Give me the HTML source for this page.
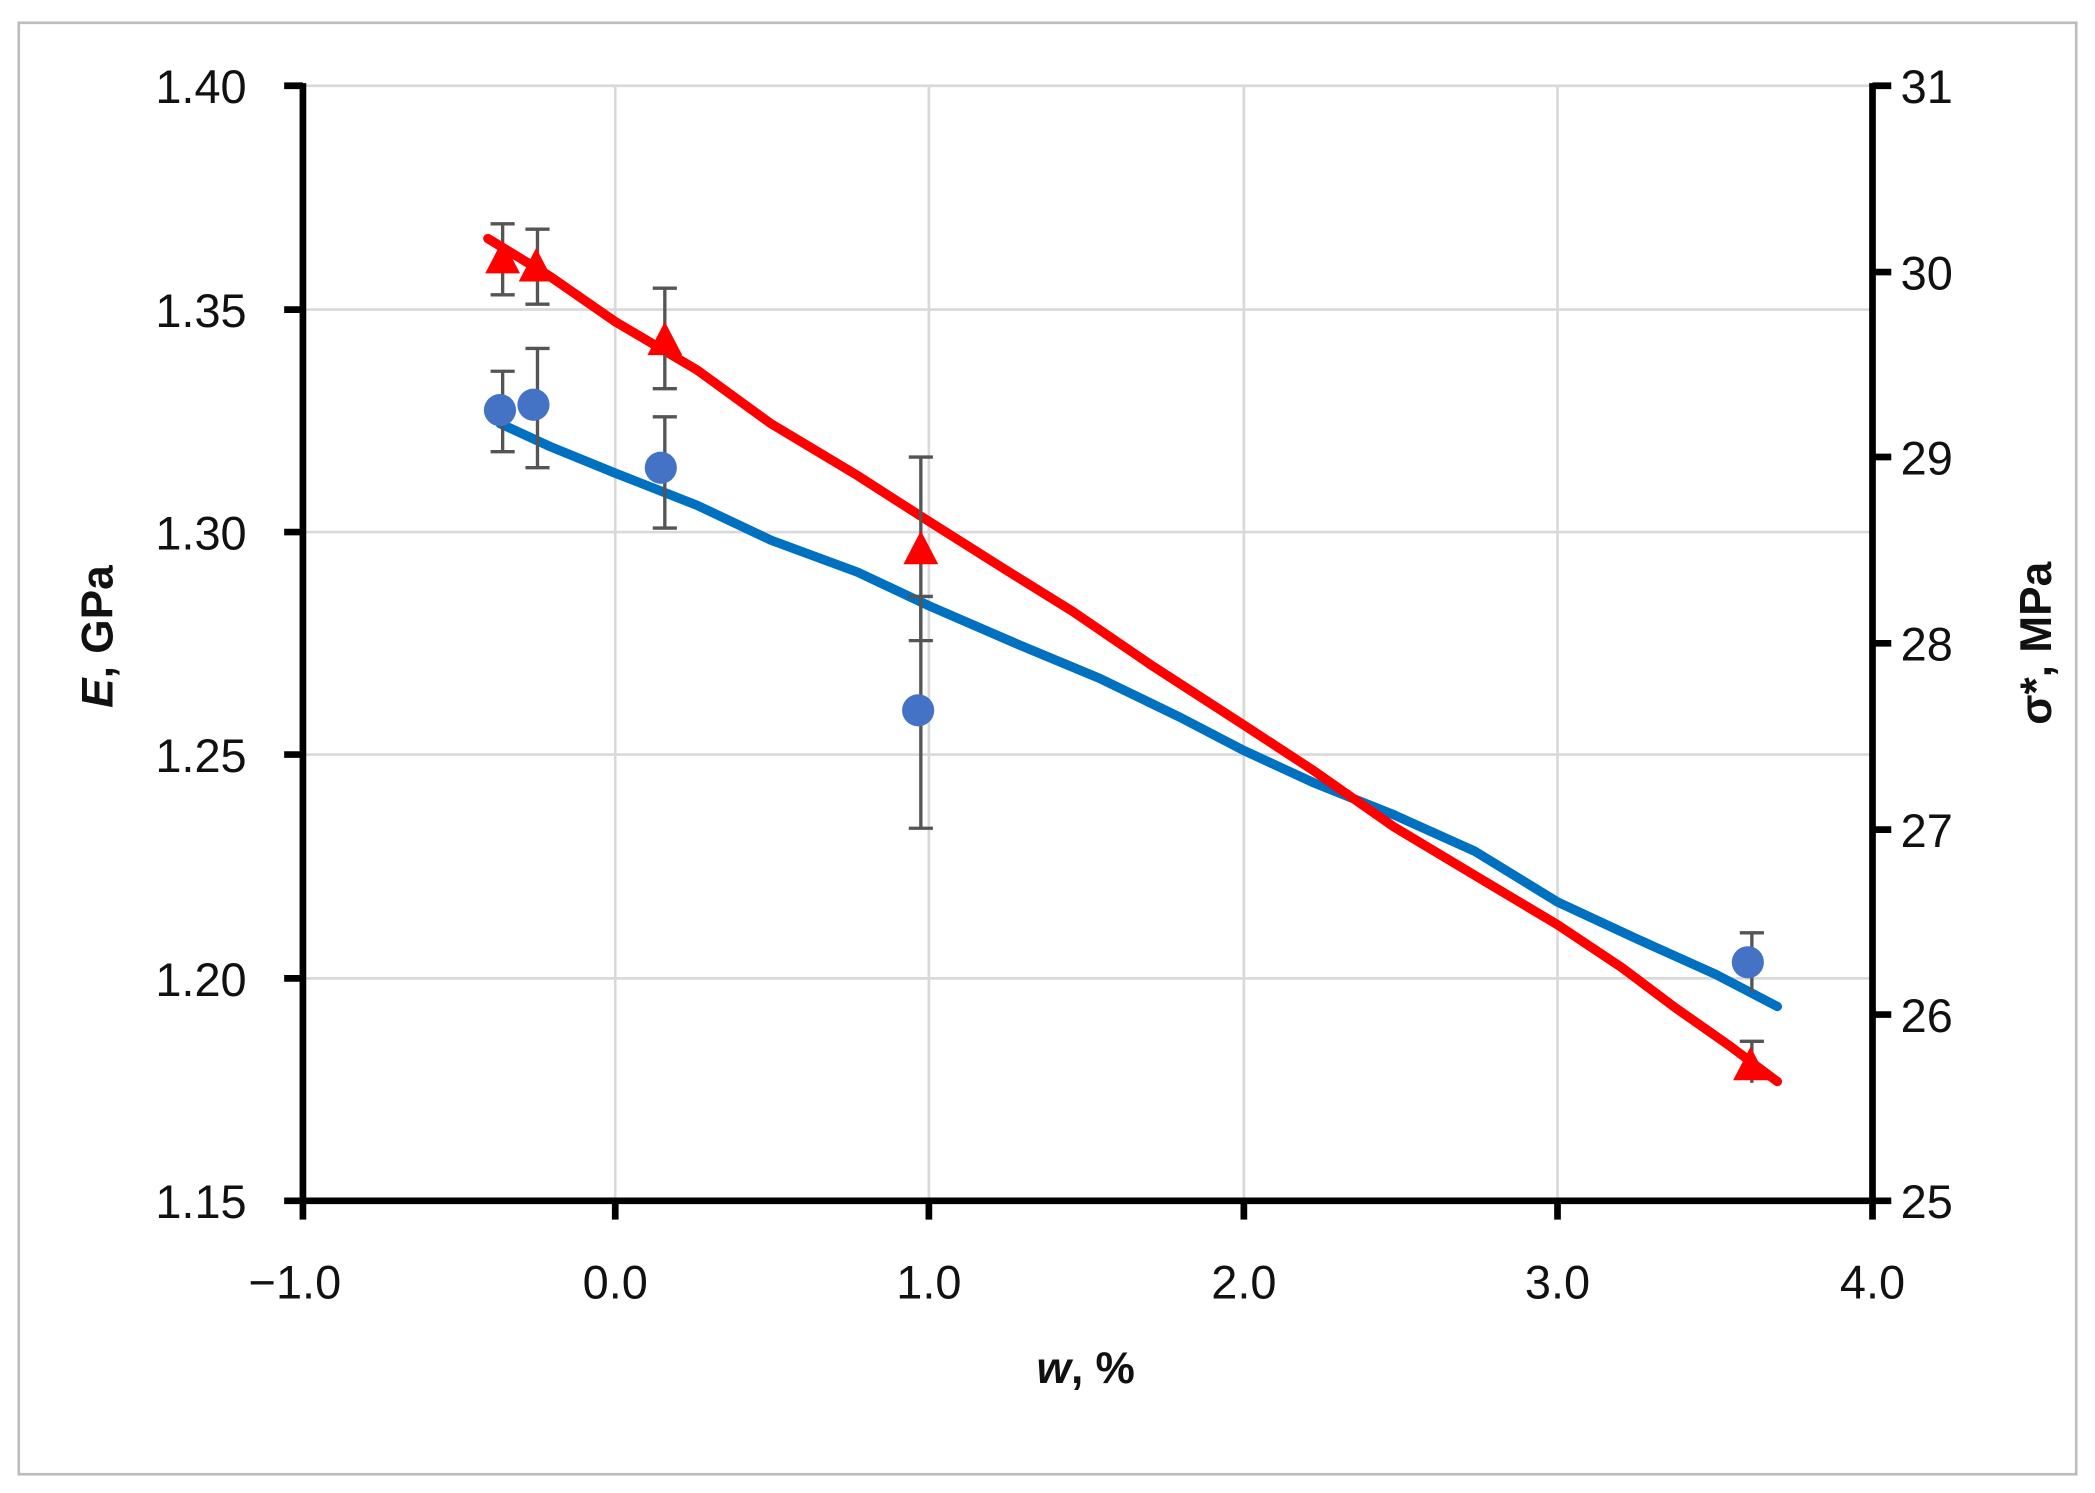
<!DOCTYPE html>
<html><head><meta charset="utf-8"><style>
html,body{margin:0;padding:0;background:#fff;}
svg{display:block;}
text{font-family:"Liberation Sans",sans-serif;fill:#111;}
</style></head><body>
<svg width="2095" height="1493" viewBox="0 0 1563 1114" preserveAspectRatio="none">
<rect x="0" y="0" width="1563" height="1114" fill="#fff"/>
<rect x="14" y="17" width="1535" height="1083" fill="#fff" stroke="#bdbdbd" stroke-width="2"/>
<g stroke="#d9d9d9" stroke-width="2">
<line x1="226" y1="64" x2="1397" y2="64"/>
<line x1="226" y1="231" x2="1397" y2="231"/>
<line x1="226" y1="397" x2="1397" y2="397"/>
<line x1="226" y1="563" x2="1397" y2="563"/>
<line x1="226" y1="730" x2="1397" y2="730"/>
<line x1="459" y1="64" x2="459" y2="896"/>
<line x1="693" y1="64" x2="693" y2="896"/>
<line x1="928" y1="64" x2="928" y2="896"/>
<line x1="1162" y1="64" x2="1162" y2="896"/>
</g>
<g stroke="#000" stroke-width="5" fill="none">
<line x1="226" y1="62" x2="226" y2="898"/>
<line x1="1397" y1="62" x2="1397" y2="898"/>
<line x1="224" y1="896" x2="1399" y2="896"/>
</g>
<g stroke="#000" stroke-width="5">
<line x1="212" y1="64" x2="226" y2="64"/><line x1="212" y1="231" x2="226" y2="231"/><line x1="212" y1="397" x2="226" y2="397"/><line x1="212" y1="563" x2="226" y2="563"/><line x1="212" y1="730" x2="226" y2="730"/><line x1="212" y1="896" x2="226" y2="896"/>
<line x1="1397" y1="64" x2="1411" y2="64"/><line x1="1397" y1="203" x2="1411" y2="203"/><line x1="1397" y1="341" x2="1411" y2="341"/><line x1="1397" y1="480" x2="1411" y2="480"/><line x1="1397" y1="619" x2="1411" y2="619"/><line x1="1397" y1="757" x2="1411" y2="757"/><line x1="1397" y1="896" x2="1411" y2="896"/>
<line x1="226" y1="896" x2="226" y2="910"/><line x1="459" y1="896" x2="459" y2="910"/><line x1="693" y1="896" x2="693" y2="910"/><line x1="928" y1="896" x2="928" y2="910"/><line x1="1162" y1="896" x2="1162" y2="910"/><line x1="1397" y1="896" x2="1397" y2="910"/>
</g>
<g font-size="35" text-anchor="end">
<text x="184" y="77">1.40</text><text x="184" y="244">1.35</text><text x="184" y="410">1.30</text><text x="184" y="576">1.25</text><text x="184" y="743">1.20</text><text x="184" y="909">1.15</text>
</g>
<g font-size="35" text-anchor="start">
<text x="1418" y="77">31</text><text x="1418" y="216">30</text><text x="1418" y="354">29</text><text x="1418" y="493">28</text><text x="1418" y="632">27</text><text x="1418" y="770">26</text><text x="1418" y="909">25</text>
</g>
<g font-size="35" text-anchor="middle">
<text x="220" y="969">−1.0</text><text x="459" y="969">0.0</text><text x="693" y="969">1.0</text><text x="928" y="969">2.0</text><text x="1162" y="969">3.0</text><text x="1397" y="969">4.0</text>
</g>
<text x="810" y="1032" font-size="33" font-weight="bold" text-anchor="middle"><tspan font-style="italic">w</tspan>, %</text>
<text transform="translate(84,475) rotate(-90)" font-size="33" font-weight="bold" text-anchor="middle"><tspan font-style="italic">E</tspan>, GPa</text>
<text transform="translate(1530,480) rotate(-90)" font-size="33" font-weight="bold" text-anchor="middle">σ*, MPa</text>
<polyline fill="none" stroke="#0070c0" stroke-width="7" stroke-linecap="round" points="373,316 410,333 459,353 520,377 575,403 640,427 693,452 760,481 820,506 880,535 928,560 980,584 1040,608 1100,635 1162,673 1220,700 1280,727 1326,751"/>
<polyline fill="none" stroke="#ff0000" stroke-width="7" stroke-linecap="round" points="364,178 410,206 459,240 520,276 575,316 640,355 693,389 750,425 800,456 860,497 928,541 980,575 1040,617 1100,653 1162,690 1210,722 1250,752 1290,780 1326,807"/>
<g stroke="#555" stroke-width="2.5">
<line x1="375" y1="167" x2="375" y2="220"/><line x1="366" y1="167" x2="384" y2="167"/><line x1="366" y1="220" x2="384" y2="220"/>
<line x1="401" y1="171" x2="401" y2="227"/><line x1="392" y1="171" x2="410" y2="171"/><line x1="392" y1="227" x2="410" y2="227"/>
<line x1="496" y1="215" x2="496" y2="290"/><line x1="487" y1="215" x2="505" y2="215"/><line x1="487" y1="290" x2="505" y2="290"/>
<line x1="687" y1="341" x2="687" y2="478"/><line x1="678" y1="341" x2="696" y2="341"/><line x1="678" y1="478" x2="696" y2="478"/>
<line x1="1307" y1="777" x2="1307" y2="808"/><line x1="1298" y1="777" x2="1316" y2="777"/>
<line x1="375" y1="277" x2="375" y2="337"/><line x1="366" y1="277" x2="384" y2="277"/><line x1="366" y1="337" x2="384" y2="337"/>
<line x1="401" y1="260" x2="401" y2="349"/><line x1="392" y1="260" x2="410" y2="260"/><line x1="392" y1="349" x2="410" y2="349"/>
<line x1="496" y1="311" x2="496" y2="394"/><line x1="487" y1="311" x2="505" y2="311"/><line x1="487" y1="394" x2="505" y2="394"/>
<line x1="687" y1="445" x2="687" y2="618"/><line x1="678" y1="445" x2="696" y2="445"/><line x1="678" y1="618" x2="696" y2="618"/>
<line x1="1307" y1="696" x2="1307" y2="740"/><line x1="1298" y1="696" x2="1316" y2="696"/>
</g>
<g fill="#4472c4">
<ellipse cx="373" cy="306" rx="12" ry="12"/><ellipse cx="398" cy="302" rx="12" ry="12"/><ellipse cx="493" cy="349" rx="12" ry="12"/><ellipse cx="685" cy="530" rx="12" ry="12"/><ellipse cx="1304" cy="718" rx="12" ry="12"/>
</g>
<g fill="#ff0000">
<polygon points="375,179 362,204 388,204"/><polygon points="400,185 387,210 413,210"/><polygon points="496,240 483,265 509,265"/><polygon points="687,396 674,421 700,421"/><polygon points="1306,781 1293,806 1319,806"/>
</g>
</svg>
</body></html>
